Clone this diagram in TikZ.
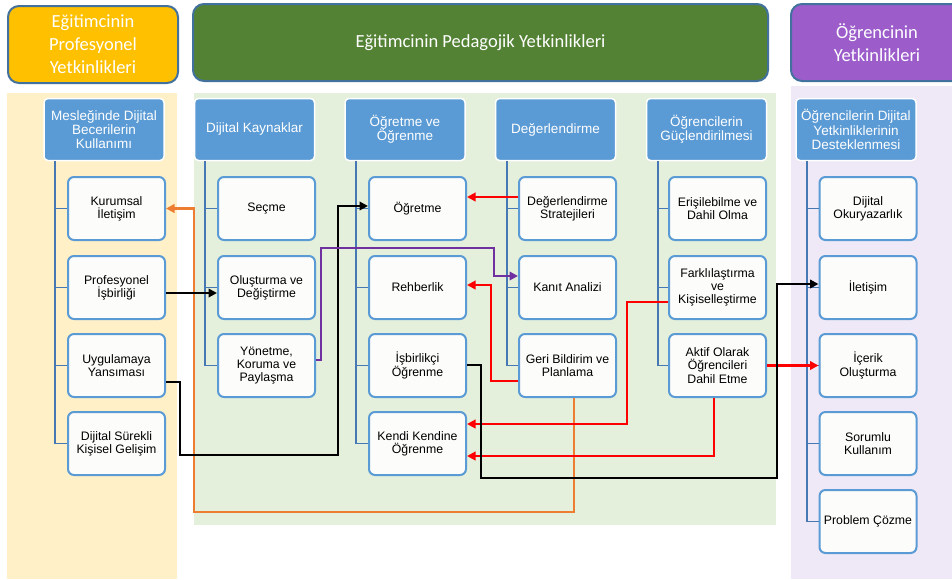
\documentclass[tikz,border=0pt]{standalone}
\usepackage{fontspec}
\setmainfont{Liberation Sans}
\newfontfamily\calibri{Carlito}
\usetikzlibrary{arrows.meta}
\definecolor{bandline}{HTML}{41719C}
\definecolor{bandgold}{HTML}{FFC000}
\definecolor{bandgreen}{HTML}{548235}
\definecolor{bandpurple}{HTML}{9C5DCB}
\definecolor{panelgold}{HTML}{FFF0C8}
\definecolor{panelgreen}{HTML}{E4F0DC}
\definecolor{panelpurple}{HTML}{EFE9F7}
\definecolor{boxblue}{HTML}{5B9BD5}
\definecolor{treeblue}{HTML}{4678B4}
\definecolor{itemfill}{HTML}{FCFCFA}
\definecolor{linkred}{HTML}{FF0000}
\definecolor{linkorange}{HTML}{ED7D31}
\definecolor{linkpurple}{HTML}{7030A0}
\begin{document}
\begin{tikzpicture}[x=1pt,y=-1pt,
  band/.style={draw=bandline,line width=2pt,rounded corners=11pt,text=white,align=center,inner sep=0pt,minimum height=77pt,font=\calibri\fontsize{18.5}{23}\selectfont},
  colhead/.style={fill=boxblue,draw=white,line width=1.5pt,rounded corners=4pt,minimum width=120pt,minimum height=62pt,inner sep=0pt,text=white,align=center,font=\fontsize{13.5}{14.3}\selectfont},
  item/.style={fill=itemfill,draw=boxblue,line width=2pt,rounded corners=6pt,minimum width=97pt,minimum height=63pt,inner sep=0pt,align=center,font=\fontsize{12.3}{13.3}\selectfont},
  tree/.style={draw=treeblue,line width=1.8pt},
  link/.style={line width=2.2pt,-{Stealth[inset=0pt,length=8.5pt,width=8.5pt]}}]
\useasboundingbox (0,0) rectangle (952,579);
% panels behind the columns
\fill[panelgold] (7,93) rectangle (177,579);
\fill[panelgreen] (194,93) rectangle (776,525);
\fill[panelpurple] (791,86) rectangle (952,579);
% top bands
\node[band,fill=bandgold,minimum width=170pt] (profesyonelband) at (93,44.5) {Eğitimcinin\\Profesyonel\\Yetkinlikleri};
\node[band,fill=bandgreen,minimum width=575pt] (pedagojikband) at (480.5,42.5) {Eğitimcinin Pedagojik Yetkinlikleri};
\node[band,fill=bandpurple,minimum width=172pt] (ogrenciband) at (877,42.5) {Öğrencinin\\Yetkinlikleri};
% column heads
\node[colhead] (meslek) at (104,129.5) {Mesleğinde Dijital\\Becerilerin\\Kullanımı};
\node[colhead] (kaynak) at (254.5,129.5) {Dijital Kaynaklar};
\node[colhead] (ogretmeogrenme) at (405,129.5) {Öğretme ve\\Öğrenme};
\node[colhead] (degerlendirme) at (555.5,129.5) {Değerlendirme};
\node[colhead] (guclendirme) at (706.5,129.5) {Öğrencilerin\\Güçlendirilmesi};
\node[colhead] (destek) at (856,129.5) {Öğrencilerin Dijital\\Yetkinliklerinin\\Desteklenmesi};
% items
\node[item] (kurumsal) at (116.5,208.5) {Kurumsal\\İletişim};
\node[item] (profesyonel) at (116.5,287.5) {Profesyonel\\İşbirliği};
\node[item] (uygulamaya) at (116.5,365.5) {Uygulamaya\\Yansıması};
\node[item] (gelisim) at (116.5,443.5) {Dijital Sürekli\\Kişisel Gelişim};
\node[item] (secme) at (266.5,208.5) {Seçme};
\node[item] (olusturma) at (266.5,287.5) {Oluşturma ve\\Değiştirme};
\node[item] (yonetme) at (266.5,365.5) {Yönetme,\\Koruma ve\\Paylaşma};
\node[item] (ogretme) at (417.5,208.5) {Öğretme};
\node[item] (rehberlik) at (417.5,287.5) {Rehberlik};
\node[item] (isbirlikci) at (417.5,365.5) {İşbirlikçi\\Öğrenme};
\node[item] (kendi) at (417.5,443.5) {Kendi Kendine\\Öğrenme};
\node[item] (strateji) at (567.5,208.5) {Değerlendirme\\Stratejileri};
\node[item] (kanit) at (567.5,287.5) {Kanıt Analizi};
\node[item] (geri) at (567.5,365.5) {Geri Bildirim ve\\Planlama};
\node[item] (erisim) at (717.5,208.5) {Erişilebilme ve\\Dahil Olma};
\node[item] (farklilastirma) at (717.5,287.5) {Farklılaştırma\\ve\\Kişiselleştirme};
\node[item] (aktif) at (717.5,365.5) {Aktif Olarak\\Öğrencileri\\Dahil Etme};
\node[item] (okuryazarlik) at (868,208.5) {Dijital\\Okuryazarlık};
\node[item] (iletisim) at (868,287.5) {İletişim};
\node[item] (icerik) at (868,365.5) {İçerik\\Oluşturma};
\node[item] (sorumlu) at (868,443.5) {Sorumlu\\Kullanım};
\node[item] (problem) at (868,521.5) {Problem Çözme};
% tree lines
\draw[tree] ([xshift=12pt]meslek.south west) |- (gelisim.west) (kurumsal.west) -- ++(-12,0) (profesyonel.west) -- ++(-12,0) (uygulamaya.west) -- ++(-12,0);
\draw[tree] ([xshift=11.5pt]kaynak.south west) |- (yonetme.west) (secme.west) -- ++(-11,0) (olusturma.west) -- ++(-11,0);
\draw[tree] ([xshift=12pt]ogretmeogrenme.south west) |- (kendi.west) (ogretme.west) -- ++(-11.5,0) (rehberlik.west) -- ++(-11.5,0) (isbirlikci.west) -- ++(-11.5,0);
\draw[tree] ([xshift=12pt]degerlendirme.south west) |- (geri.west) (strateji.west) -- ++(-11.5,0) (kanit.west) -- ++(-11.5,0);
\draw[tree] ([xshift=12pt]guclendirme.south west) |- (aktif.west) (erisim.west) -- ++(-11,0) (farklilastirma.west) -- ++(-11,0);
\draw[tree] ([xshift=12pt]destek.south west) |- (problem.west) (okuryazarlik.west) -- ++(-12,0) (iletisim.west) -- ++(-12,0) (icerik.west) -- ++(-12,0) (sorumlu.west) -- ++(-12,0);
% links between competences
\draw[link,draw=linkorange] ([xshift=6.5pt]geri.south) -- ++(0,114) -| ([xshift=28pt]kurumsal.east) -- (kurumsal.east);
\draw[link] ([yshift=-5.5pt]profesyonel.east) -- ([yshift=-5.5pt]olusturma.west);
\draw[link] ([yshift=-16.5pt]uygulamaya.east) -- ++(14,0) |- (338,455) |- ([yshift=2.5pt]ogretme.west);
\draw[link,draw=linkpurple] ([yshift=5.5pt]yonetme.east) -- ++(5,0) |- (494,248) |- ([yshift=11.5pt]kanit.west);
\draw[link,draw=linkred] ([yshift=11.5pt]strateji.west) -- ([yshift=11.5pt]ogretme.east);
\draw[link,draw=linkred] ([yshift=-15.5pt]geri.west) -- ++(-27,0) |- ([yshift=2.5pt]rehberlik.east);
\draw[link,draw=linkred] ([yshift=-14.5pt]farklilastirma.west) -- ++(-41,0) |- ([yshift=19.5pt]kendi.east);
\draw[link,draw=linkred] ([xshift=-3.5pt]aktif.south) |- ([yshift=-12.5pt]kendi.east);
\draw[link,draw=linkred] (aktif.east) -- (icerik.west);
\draw[link] ([yshift=0.5pt]isbirlikci.east) -- ++(14,0) |- (777,478) |- ([yshift=3.5pt]iletisim.west);
\end{tikzpicture}
\end{document}
